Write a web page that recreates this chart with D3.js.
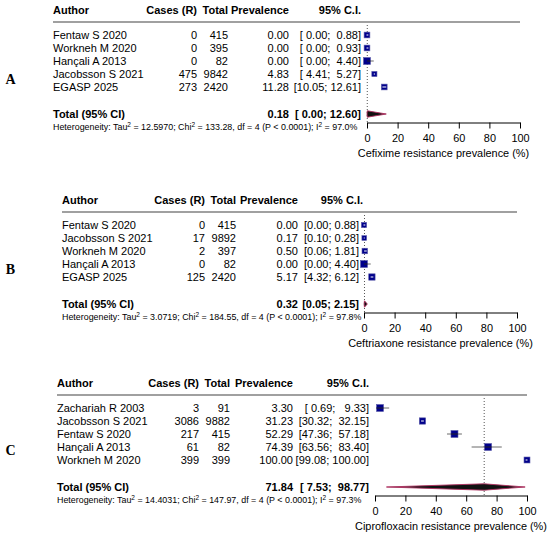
<!DOCTYPE html>
<html><head><meta charset="utf-8">
<script src="https://cdn.jsdelivr.net/npm/d3@7"></script>
<style>body{margin:0;background:#fff}svg{display:block}text{font-family:"Liberation Sans",Arial,sans-serif;white-space:pre}</style>
</head><body>
<script>
// ---------- DATA ----------
const tickValues = [0, 20, 40, 60, 80, 100];
const headers = ["Author", "Cases (R)", "Total", "Prevalence", "95% C.I."];

const authorsA = ["Fentaw S 2020", "Workneh M 2020", "Hançali A 2013", "Jacobsson S 2021", "EGASP 2025"];
const casesA   = [0, 0, 0, 475, 273];
const totalsA  = [415, 395, 82, 9842, 2420];
const prevA    = [0.00, 0.00, 0.00, 4.83, 11.28];
const lowerA   = [0.00, 0.00, 0.00, 4.41, 10.05];
const upperA   = [0.88, 0.93, 4.40, 5.27, 12.61];
const weightsA = [19, 19, 28, 15, 19];
const pooledA  = [0.18, 0.00, 12.60];
const hetA     = [12.5970, 133.28, 4, 97.0];
const titleA   = "Cefixime resistance prevalence (%)";

const authorsB = ["Fentaw S 2020", "Jacobsson S 2021", "Workneh M 2020", "Hançali A 2013", "EGASP 2025"];
const casesB   = [0, 17, 2, 0, 125];
const totalsB  = [415, 9892, 397, 82, 2420];
const prevB    = [0.00, 0.17, 0.50, 0.00, 5.17];
const lowerB   = [0.00, 0.10, 0.06, 0.00, 4.32];
const upperB   = [0.88, 0.28, 1.81, 4.40, 6.12];
const weightsB = [16, 13, 18, 29, 24];
const pooledB  = [0.32, 0.05, 2.15];
const hetB     = [3.0719, 184.55, 4, 97.8];
const titleB   = "Ceftriaxone resistance prevalence (%)";

const authorsC = ["Zachariah R 2003", "Jacobsson S 2021", "Fentaw S 2020", "Hançali A 2013", "Workneh M 2020"];
const casesC   = [3, 3086, 217, 61, 399];
const totalsC  = [91, 9882, 415, 82, 399];
const prevC    = [3.30, 31.23, 52.29, 74.39, 100.00];
const lowerC   = [0.69, 30.32, 47.36, 63.56, 99.08];
const upperC   = [9.33, 32.15, 57.18, 83.40, 100.00];
const weightsC = [22, 18, 22, 22, 16];
const pooledC  = [71.84, 7.53, 98.77];
const hetC     = [14.4031, 147.97, 4, 97.3];
const titleC   = "Ciprofloxacin resistance prevalence (%)";

// ---------- LAYOUT ----------
const panels = [
  {label:"A", T:10,  x0:53, casesX:197, totalX:228, prevX:289, ciX:361, ciHeadX:361, ax0:367, ax1:520, labelY:79,
   authors:authorsA, cases:casesA, totals:totalsA, prev:prevA, lower:lowerA, upper:upperA, weights:weightsA, pooled:pooledA, het:hetA, title:titleA},
  {label:"B", T:200, x0:62, casesX:205, totalX:236, prevX:298, ciX:359, ciHeadX:363, ax0:364, ax1:517, labelY:269,
   authors:authorsB, cases:casesB, totals:totalsB, prev:prevB, lower:lowerB, upper:upperB, weights:weightsB, pooled:pooledB, het:hetB, title:titleB},
  {label:"C", T:383, x0:57, casesX:199, totalX:230, prevX:293, ciX:369, ciHeadX:369, ax0:375, ax1:527, labelY:450,
   authors:authorsC, cases:casesC, totals:totalsC, prev:prevC, lower:lowerC, upper:upperC, weights:weightsC, pooled:pooledC, het:hetC, title:titleC}
];

const svg = d3.select("body").append("svg").attr("width", 550).attr("height", 536);
const FS = 11, AXFS = 10.9, HETFS = 8.9;

function ciStrings(lo, hi, plo, phi) {
  const L = lo.map(v => v.toFixed(2)), U = hi.map(v => v.toFixed(2));
  const PL = plo.toFixed(2), PU = phi.toFixed(2);
  const wl = d3.max(L.concat([PL]), s => s.length), wu = d3.max(U.concat([PU]), s => s.length);
  const f = (a, b) => "[" + a.padStart(wl, " ") + "; " + b.padStart(wu, " ") + "]";
  return {rows: L.map((l, i) => f(l, U[i])), pooled: f(PL, PU)};
}

panels.forEach(p => {
  const g = svg.append("g");
  const x = d3.scaleLinear().domain([0, 100]).range([p.ax0, p.ax1]);
  const n = p.authors.length;
  const rowY = d3.scaleLinear().domain([0, 1]).range([p.T + 25, p.T + 38]);
  const yTot = p.T + 104, yHet = p.T + 117, yAx = p.T + 112.5;
  const side = d3.scaleSqrt().domain([0, d3.max(p.weights)]).range([0, 7]);

  // panel label
  g.append("text").attr("x", 10.5).attr("y", p.labelY).attr("text-anchor", "middle")
    .attr("dominant-baseline", "central")
    .style("font-family", '"Liberation Serif","Times New Roman",serif').style("font-weight", "bold")
    .style("font-size", "14px").text(p.label);

  // headers
  const hx = [p.x0, p.casesX, p.totalX, p.prevX, p.ciHeadX];
  headers.forEach((h, i) => {
    g.append("text").attr("x", hx[i]).attr("y", p.T).attr("dominant-baseline", "central")
      .attr("text-anchor", i === 0 ? "start" : "end")
      .style("font-weight", "bold").style("font-size", FS + "px").text(h);
  });
  g.append("line").attr("x1", p.x0).attr("x2", p.ax1).attr("y1", p.T + 12).attr("y2", p.T + 12)
    .attr("stroke", "#808080").attr("stroke-width", 1.5);

  // reference dotted line at pooled estimate
  g.append("line").attr("x1", x(p.pooled[0])).attr("x2", x(p.pooled[0]))
    .attr("y1", p.T + 15).attr("y2", yAx).attr("stroke", "#555").attr("stroke-width", 1)
    .attr("stroke-dasharray", "1,2");

  const ci = ciStrings(p.lower, p.upper, p.pooled[1], p.pooled[2]);

  // study rows
  d3.range(n).forEach(i => {
    const y = rowY(i);
    const t = (xx, anchor, s) => g.append("text").attr("x", xx).attr("y", y).attr("dominant-baseline", "central")
      .attr("text-anchor", anchor).style("font-size", FS + "px").text(s);
    t(p.x0, "start", p.authors[i]);
    t(p.casesX, "end", p.cases[i]);
    t(p.totalX, "end", p.totals[i]);
    t(p.prevX, "end", p.prev[i].toFixed(2));
    t(p.ciX, "end", ci.rows[i]);

    const s = side(p.weights[i]);
    const cx = x(p.prev[i]);
    const lo = x(p.lower[i]), hi = x(p.upper[i]);
    const inside = lo >= cx - s / 2 && hi <= cx + s / 2;
    if (!inside) {
      g.append("line").attr("x1", lo).attr("x2", hi).attr("y1", y).attr("y2", y)
        .attr("stroke", "#6a6a6a").attr("stroke-width", 1);
    }
    g.append("rect").attr("x", cx - s / 2).attr("y", y - s / 2).attr("width", s).attr("height", s)
      .attr("fill", "#00008B").attr("stroke", "#5a5aa8").attr("stroke-width", 0.6);
    if (inside) {
      const a = Math.min(lo, cx - 0.5), b = Math.max(hi, cx + 0.5);
      g.append("line").attr("x1", a).attr("x2", b).attr("y1", y).attr("y2", y)
        .attr("stroke", "#fff").attr("stroke-width", 1);
    } else {
      g.append("line").attr("x1", Math.max(lo, cx - s / 2)).attr("x2", Math.min(hi, cx + s / 2))
        .attr("y1", y).attr("y2", y).attr("stroke", "#222").attr("stroke-width", 1);
    }
  });

  // total row
  g.append("text").attr("x", p.x0).attr("y", yTot).attr("dominant-baseline", "central")
    .style("font-weight", "bold").style("font-size", FS + "px").text("Total (95% CI)");
  g.append("text").attr("x", p.prevX).attr("y", yTot).attr("dominant-baseline", "central").attr("text-anchor", "end")
    .style("font-weight", "bold").style("font-size", FS + "px").text(p.pooled[0].toFixed(2));
  g.append("text").attr("x", p.ciX).attr("y", yTot).attr("dominant-baseline", "central").attr("text-anchor", "end")
    .style("font-weight", "bold").style("font-size", FS + "px").text(ci.pooled);

  // diamond
  const dh = 3.2;
  const pts = [[x(p.pooled[1]), yTot], [x(p.pooled[0]), yTot - dh], [x(p.pooled[2]), yTot], [x(p.pooled[0]), yTot + dh]];
  g.append("polygon").attr("points", pts.map(d => d.join(",")).join(" "))
    .attr("fill", "#111").attr("stroke", "#B03060").attr("stroke-width", 0.9).attr("stroke-linejoin", "miter");

  // heterogeneity
  const het = g.append("text").attr("x", p.x0).attr("y", yHet).attr("dominant-baseline", "central")
    .style("font-size", HETFS + "px");
  const sup = s => het.append("tspan").attr("dy", -3.2).style("font-size", "6.5px").text(s);
  const norm = s => het.append("tspan").attr("dy", 3.2).text(s);
  het.append("tspan").text("Heterogeneity: Tau");
  sup("2"); norm(" = " + p.het[0].toFixed(4) + "; Chi");
  sup("2"); norm(" = " + p.het[1].toFixed(2) + ", df = " + p.het[2] + " (P < 0.0001); I");
  sup("2"); norm(" = " + p.het[3].toFixed(1) + "%");

  // axis
  const ax = g.append("g").attr("transform", `translate(0,${yAx})`)
    .call(d3.axisBottom(x).tickValues(tickValues).tickSize(6).tickPadding(6).tickSizeOuter(0));
  ax.selectAll("text").style("font-size", AXFS + "px").style("font-family", '"Liberation Sans",Arial,sans-serif').attr("fill", "#000");
  ax.selectAll("line,path").attr("stroke", "#000");
  g.append("text").attr("x", (p.ax0 + p.ax1) / 2).attr("y", p.T + 143).attr("text-anchor", "middle")
    .attr("dominant-baseline", "central").style("font-size", AXFS + "px").text(p.title);
});
</script>
</body></html>
